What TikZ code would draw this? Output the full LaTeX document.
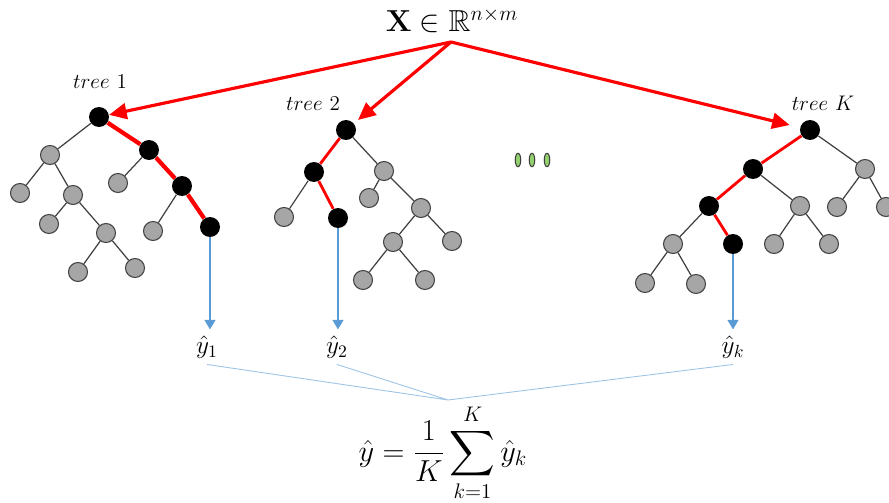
\documentclass[tikz,border=0pt]{standalone}
\usepackage{amsmath,amssymb}
\usepackage{tikz}
\usetikzlibrary{arrows.meta, shapes.geometric}
\definecolor{leafgray}{RGB}{166, 166, 166}
\definecolor{edgegray}{RGB}{64, 64, 64}
\definecolor{outblue}{RGB}{91, 155, 213}
\definecolor{voteblue}{RGB}{157, 195, 230}
\definecolor{dotgreen}{RGB}{146, 208, 110}

\begin{document}
\begin{tikzpicture}[x=0.02cm, y=-0.02cm, >=Stealth,
      leaf/.style={circle, draw=edgegray, fill=leafgray, line width=0.6pt,
        minimum size=0.38cm, inner sep=0pt},
      hit/.style={circle, fill=black, minimum size=0.40cm, inner sep=0pt},
      branch/.style={draw=edgegray, line width=0.7pt},
      route/.style={draw=red, line width=1.6pt},
      feed/.style={-{Triangle[length=10pt,width=9pt]}, red, line width=1.8pt},
      pred/.style={-{Triangle[length=5.5pt,width=6pt]}, outblue, line width=1.4pt},
      vote/.style={voteblue, line width=0.5pt},
      gap/.style={ellipse, draw=edgegray, fill=dotgreen, line width=0.6pt,
        minimum width=0.11cm, minimum height=0.27cm, inner sep=0pt},
      lbl/.style={font=\fontsize{12}{14}\selectfont},
      yhat/.style={font=\fontsize{14.4}{17}\selectfont}]

    \useasboundingbox (0,0) rectangle (889,503);

    %% ---- input ----------------------------------------------------------
    \node[font=\fontsize{17.28}{20}\selectfont] (X) at (452,20)
      {$\mathbf{X}\in\mathbb{R}^{n\times m}$};
    \coordinate (src) at (451,42);

    %% ---- tree 1 ---------------------------------------------------------
    \node[lbl] (T1) at (100,82) {$tree\ 1$};
    \node[hit]  (A1)  at (99,117)  {};
    \node[leaf] (A2)  at (50,155)  {};
    \node[hit]  (A3)  at (149,150) {};
    \node[leaf] (A4)  at (20,193)  {};
    \node[leaf] (A5)  at (73,195)  {};
    \node[leaf] (A6)  at (118,183) {};
    \node[hit]  (A7)  at (182,186) {};
    \node[leaf] (A8)  at (49,224)  {};
    \node[leaf] (A9)  at (106,233) {};
    \node[leaf] (A10) at (153,231) {};
    \node[hit]  (A11) at (210,227) {};
    \node[leaf] (A12) at (78,272)  {};
    \node[leaf] (A13) at (135,268) {};

    \draw[branch] (A1) -- (A2) (A2) -- (A4) (A2) -- (A5) (A5) -- (A8)
      (A5) -- (A9) (A9) -- (A12) (A9) -- (A13) (A3) -- (A6) (A7) -- (A10);
    \draw[route, line width=2.4pt] (A1) -- (A3) (A3) -- (A7) (A7) -- (A11);

    %% ---- tree 2 ---------------------------------------------------------
    \node[lbl] (T2) at (313,104) {$tree\ 2$};
    \node[hit]  (B1)  at (346,130) {};
    \node[hit]  (B2)  at (314,172) {};
    \node[leaf] (B3)  at (384,171) {};
    \node[leaf] (B4)  at (284,217) {};
    \node[hit]  (B5)  at (338,218) {};
    \node[leaf] (B6)  at (369,198) {};
    \node[leaf] (B7)  at (421,208) {};
    \node[leaf] (B8)  at (393,242) {};
    \node[leaf] (B9)  at (452,241) {};
    \node[leaf] (B10) at (363,280) {};
    \node[leaf] (B11) at (425,280) {};

    \draw[branch] (B1) -- (B3) (B2) -- (B4) (B3) -- (B6) (B3) -- (B7)
      (B7) -- (B8) (B7) -- (B9) (B8) -- (B10) (B8) -- (B11);
    \draw[route] (B1) -- (B2) (B2) -- (B5);

    %% ---- the trees in between -------------------------------------------
    \node[gap] (D1) at (518,160) {};
    \node[gap] (D2) at (532,160) {};
    \node[gap] (D3) at (547,160) {};

    %% ---- tree K ---------------------------------------------------------
    \node[lbl] (TK) at (823,103) {$tree\ K$};
    \node[hit]  (C1)  at (810,130) {};
    \node[hit]  (C2)  at (753,169) {};
    \node[leaf] (C3)  at (865,169) {};
    \node[hit]  (C4)  at (709,206) {};
    \node[leaf] (C5)  at (800,206) {};
    \node[leaf] (C6)  at (837,207) {};
    \node[leaf] (C7)  at (886,207) {};
    \node[leaf] (C8)  at (673,244) {};
    \node[hit]  (C9)  at (733,244) {};
    \node[leaf] (C10) at (774,244) {};
    \node[leaf] (C11) at (829,244) {};
    \node[leaf] (C12) at (645,283) {};
    \node[leaf] (C13) at (696,284) {};

    \draw[branch] (C1) -- (C3) (C3) -- (C6) (C3) -- (C7) (C2) -- (C5)
      (C5) -- (C10) (C5) -- (C11) (C4) -- (C8) (C8) -- (C12) (C8) -- (C13);
    \draw[route] (C1) -- (C2) (C2) -- (C4) (C4) -- (C9);

    %% ---- X into every tree ----------------------------------------------
    \draw[feed] (src) -- (A1);
    \draw[feed, shorten >=3pt] (src) -- (B1);
    \draw[feed, shorten >=6pt] (src) -- (C1);

    %% ---- outputs and average --------------------------------------------
    \node[yhat] (Y1) at (207,347) {$\hat{y}_1$};
    \node[yhat] (Y2) at (337,347) {$\hat{y}_2$};
    \node[yhat] (YK) at (733,347) {$\hat{y}_k$};

    \draw[pred] (A11) -- (A11 |- Y1.north);
    \draw[pred] (B5) -- (B5 |- Y2.north);
    \draw[pred] (C9) -- (C9 |- YK.north);

    \coordinate (meet) at (448,400);
    \draw[vote] (Y1.south) -- (meet) (Y2.south) -- (meet) (YK.south) -- (meet);

    \node[font=\fontsize{18}{22}\selectfont] (avg) at (443,453)
      {$\displaystyle \hat{y}=\frac{1}{K}\sum_{k=1}^{K}\hat{y}_k$};
  \end{tikzpicture}
\end{document}
